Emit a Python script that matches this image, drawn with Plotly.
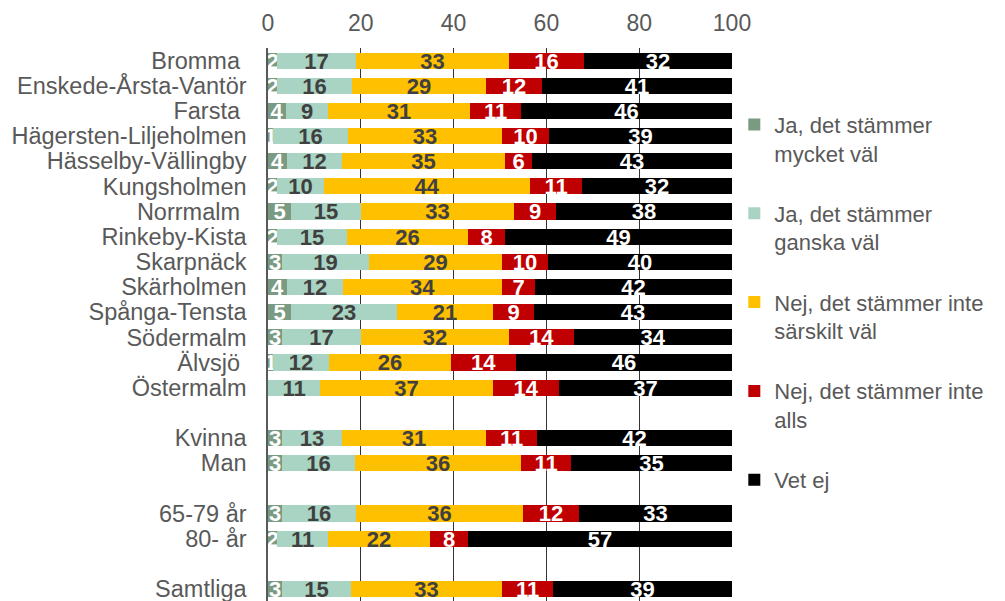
import plotly.graph_objects as go

# ---- data ----
districts = ["Bromma\u00a0", "Enskede-Årsta-Vantör", "Farsta\u00a0", "Hägersten-Liljeholmen",
             "Hässelby-Vällingby", "Kungsholmen", "Norrmalm\u00a0", "Rinkeby-Kista",
             "Skarpnäck", "Skärholmen", "Spånga-Tensta", "Södermalm", "Älvsjö\u00a0", "Östermalm"]
gender = ["Kvinna", "Man"]
age = ["65-79 år", "80- år"]
total = ["Samtliga"]

series_names = [
    "Ja, det stämmer<br>mycket väl",
    "Ja, det stämmer<br>ganska väl",
    "Nej, det stämmer inte<br>särskilt väl",
    "Nej, det stämmer inte<br>alls",
    "Vet ej",
]
ja_mycket = [2, 2, 4, 1, 4, 2, 5, 2, 3, 4, 5, 3, 1, 0, 3, 3, 3, 2, 3]
ja_ganska = [17, 16, 9, 16, 12, 10, 15, 15, 19, 12, 23, 17, 12, 11, 13, 16, 16, 11, 15]
nej_sarskilt = [33, 29, 31, 33, 35, 44, 33, 26, 29, 34, 21, 32, 26, 37, 31, 36, 36, 22, 33]
nej_alls = [16, 12, 11, 10, 6, 11, 9, 8, 10, 7, 9, 14, 14, 14, 11, 11, 12, 8, 11]
vet_ej = [32, 41, 46, 39, 43, 32, 38, 49, 40, 42, 43, 34, 46, 37, 42, 35, 33, 57, 39]
x_ticks = [0, 20, 40, 60, 80, 100]

# ---- styles ----
colors = ["#7a9a82", "#a9d4c3", "#ffc000", "#c00000", "#000000"]
label_colors = ["#ffffff", "#404040", "#404040", "#ffffff", "#ffffff"]
FONT = "Liberation Sans, Arial, sans-serif"

# row slots with one empty slot between groups
groups = [districts, gender, age, total]
labels, slots = [], []
slot = 0
for g in groups:
    for name in g:
        labels.append(name)
        slots.append(slot)
        slot += 1
    slot += 1

series = [ja_mycket, ja_ganska, nej_sarskilt, nej_alls, vet_ej]

fig = go.Figure()
for i, (name, vals) in enumerate(zip(series_names, series)):
    lines = name.split("<br>")
    legend_name = "\u00a0<br>" + name + ("<br>\u00a0" if len(lines) == 1 else "")
    fig.add_trace(go.Bar(
        y=slots, x=vals, orientation="h", name=legend_name,
        marker=dict(color=colors[i], line=dict(width=0)),
        width=0.64,
        text=[str(v) for v in vals],
        textposition="inside", insidetextanchor="middle", textangle=0,
        textfont=dict(family=FONT, size=22, color=label_colors[i], weight="bold"),
        constraintext="none", cliponaxis=False,
    ))

fig.update_layout(
    width=1005, height=601,
    barmode="stack", barnorm="percent", bargap=0,
    plot_bgcolor="white", paper_bgcolor="white",
    margin=dict(l=260, r=281, t=40, b=8, autoexpand=False),
    uniformtext=dict(minsize=22, mode="show"),
    font=dict(family=FONT, color="#595959", size=23),
    showlegend=True,
    legend=dict(
        x=1.005, y=0.951, xanchor="left", yanchor="top",
        traceorder="normal", itemwidth=30,
        font=dict(family=FONT, size=22, color="#595959"),
        bgcolor="rgba(0,0,0,0)",
    ),
    xaxis=dict(
        side="top", range=[0, 100], tickvals=x_ticks, automargin=False,
        showgrid=True, gridcolor="#333333", gridwidth=1,
        zeroline=False, showline=False, ticks="",
        tickfont=dict(family=FONT, size=23, color="#595959"),
        ticklabelstandoff=11,
    ),
    yaxis=dict(
        range=[21.48, -0.5], tickvals=slots, ticktext=labels, automargin=False,
        showgrid=False, zeroline=False,
        showline=True, linecolor="#595959", linewidth=1.5,
        ticks="", ticklabelstandoff=15,
        tickfont=dict(family=FONT, size=23.5, color="#595959"),
    ),
)

fig.write_html("out.html")
